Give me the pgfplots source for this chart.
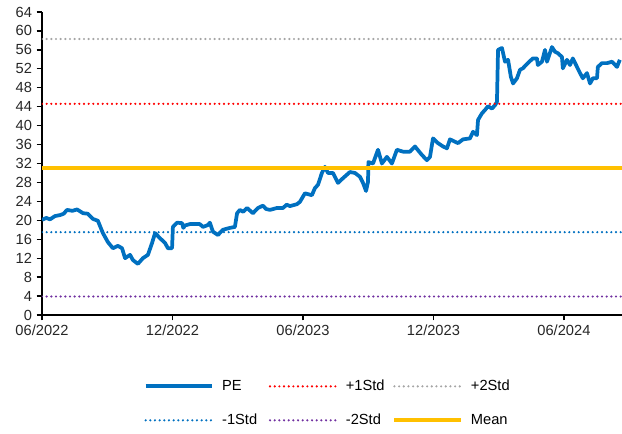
\documentclass[border=0pt]{standalone}
\usepackage{fontspec}
\setmainfont{Liberation Sans}
\usepackage{pgfplots}
\pgfplotsset{compat=1.18}

\definecolor{peblue}{RGB}{0,112,192}
\definecolor{meanorange}{RGB}{255,192,0}
\definecolor{sdred}{RGB}{255,0,0}
\definecolor{sdgray}{RGB}{165,165,165}
\definecolor{sdpurple}{RGB}{112,48,160}

\pgfplotstableread{
m     pe
0.00  20.1
0.20  20.5
0.37  20.2
0.60  20.9
0.83  21.1
1.00  21.4
1.15  22.2
1.40  22.0
1.61  22.3
1.89  21.5
2.10  21.4
2.34  20.3
2.57  19.9
2.80  17.3
3.03  15.4
3.26  14.1
3.49  14.6
3.68  14.1
3.82  12.0
4.05  12.7
4.18  11.6
4.41  10.8
4.64  12.0
4.87  12.7
5.06  15.2
5.20  17.3
5.43  16.2
5.66  15.2
5.79  14.1
5.98  14.1
6.02  18.6
6.21  19.5
6.44  19.4
6.50  18.4
6.57  18.9
6.80  19.2
7.26  19.2
7.40  18.6
7.63  19.0
7.72  19.5
7.86  17.6
8.09  16.9
8.32  18.0
8.64  18.4
8.87  18.6
8.97  21.5
9.10  22.2
9.25  21.8
9.43  22.6
9.70  21.5
9.93  22.6
10.16 23.1
10.30 22.4
10.48 22.2
10.80 22.6
11.08 22.6
11.25 23.3
11.40 23.0
11.72 23.4
11.86 23.9
12.09 25.7
12.41 25.3
12.55 26.8
12.69 27.5
12.87 30.0
13.01 31.3
13.15 30.0
13.38 30.0
13.61 27.9
13.84 28.9
14.16 30.2
14.39 30.0
14.62 29.2
14.76 27.9
14.90 26.2
14.99 28.1
15.01 32.3
15.22 32.0
15.45 34.9
15.63 32.0
15.86 33.4
16.09 32.0
16.32 34.9
16.60 34.5
16.92 34.5
17.15 35.6
17.47 33.8
17.70 32.7
17.84 33.4
17.98 37.3
18.21 36.3
18.44 35.6
18.62 35.2
18.76 37.1
18.99 36.6
19.13 36.3
19.36 37.1
19.68 37.3
19.82 38.7
20.00 38.0
20.05 41.2
20.23 42.6
20.37 43.3
20.51 44.1
20.69 43.6
20.83 44.3
20.92 45.0
20.97 56.0
21.15 56.4
21.29 53.5
21.43 53.9
21.56 50.3
21.66 48.9
21.84 50.0
21.98 51.8
22.11 52.1
22.34 53.2
22.57 54.2
22.76 54.2
22.80 52.8
22.99 53.5
23.13 56.0
23.22 53.5
23.45 56.6
23.59 55.6
23.72 55.3
23.91 54.5
23.95 52.1
24.14 53.9
24.28 52.8
24.41 54.2
24.60 52.4
24.74 51.1
24.87 50.0
25.06 51.1
25.20 48.9
25.33 50.0
25.52 50.0
25.56 52.4
25.75 53.2
25.98 53.2
26.21 53.5
26.44 52.4
26.57 53.9
}\petable

\begin{document}
\begin{tikzpicture}
\useasboundingbox (-31.5pt,-89.25pt) rectangle (435pt,236.25pt);
\begin{axis}[
  at={(0pt,0pt)}, anchor=south west,
  scale only axis,
  width=435pt, height=227.25pt,
  xmin=0, xmax=26.67,
  ymin=0, ymax=64,
  ytick={0,4,...,64},
  xtick={0,6,12,18,24},
  xticklabels={06/2022,12/2022,06/2023,12/2023,06/2024},
  axis x line*=bottom, axis y line*=left,
  x axis line style={-}, y axis line style={-},
  axis line style={line width=1.1pt, black},
  tick align=outside,
  major tick length=4pt,
  tick style={line width=1pt, black},
  tick label style={font=\fontsize{11}{13}\selectfont, text=black!85},
  /pgf/number format/assume math mode=true,
  legend columns=3,
  legend style={at={(0.175,-0.205)}, anchor=north west, draw=none, fill=none,
    font=\fontsize{11}{13}\selectfont, inner sep=0pt,
    /tikz/column sep=4pt, /tikz/row sep=12pt},
  legend cell align=left,
  legend image code/.code={\draw[#1] (0pt,0pt) -- (50pt,0pt);},
]
\addplot[draw=peblue, line width=2.8pt, line join=round] table[x=m, y=pe] {\petable};
\addlegendentry{\makebox[29pt][l]{PE}}
\addplot[draw=sdred, line width=1.8pt, line cap=round, dash pattern=on 0pt off 3.5pt] coordinates {(0,44.6) (26.67,44.6)};
\addlegendentry{\makebox[29pt][l]{+1Std}}
\addplot[draw=sdgray, line width=1.8pt, line cap=round, dash pattern=on 0pt off 3.5pt] coordinates {(0,58.3) (26.67,58.3)};
\addlegendentry{\makebox[29pt][l]{+2Std}}
\addplot[draw=peblue, line width=1.8pt, line cap=round, dash pattern=on 0pt off 3.5pt] coordinates {(0,17.5) (26.67,17.5)};
\addlegendentry{\makebox[29pt][l]{-1Std}}
\addplot[draw=sdpurple, line width=1.8pt, line cap=round, dash pattern=on 0pt off 3.5pt] coordinates {(0,3.9) (26.67,3.9)};
\addlegendentry{\makebox[29pt][l]{-2Std}}
\addplot[draw=meanorange, line width=2.8pt] coordinates {(0,31.1) (26.67,31.1)};
\addlegendentry{\makebox[29pt][l]{Mean}}
\end{axis}
\end{tikzpicture}
\end{document}
